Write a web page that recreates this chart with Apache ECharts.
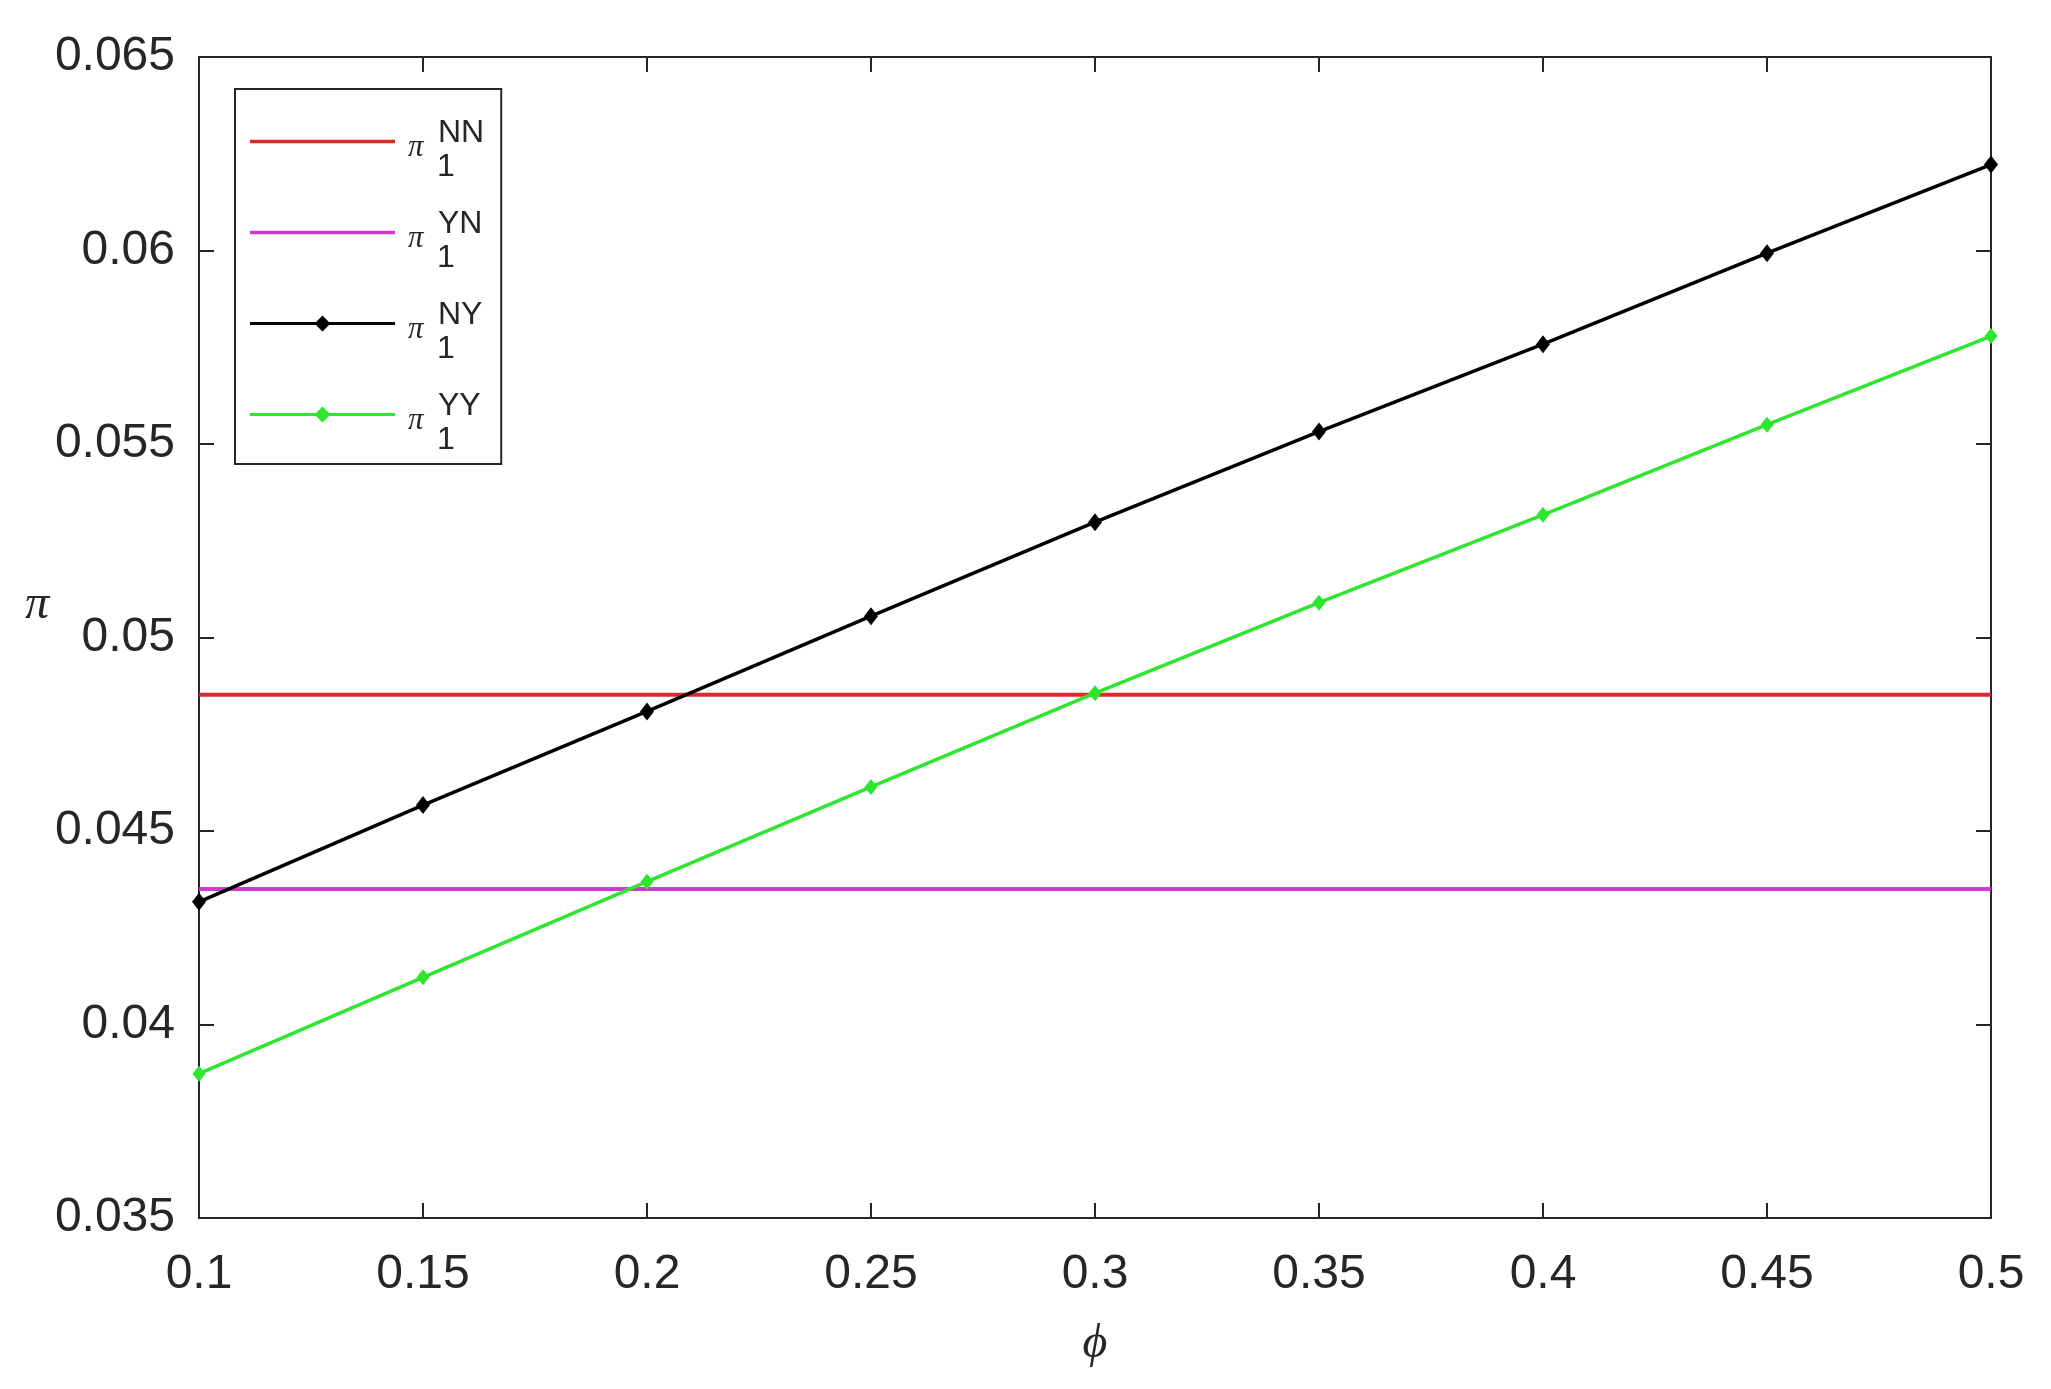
<!DOCTYPE html>
<html>
<head>
<meta charset="utf-8">
<script src="https://cdn.jsdelivr.net/npm/echarts@6/dist/echarts.min.js"></script>
<style>
html,body{margin:0;padding:0;background:#fff;}
#chart{width:2051px;height:1389px;}
</style>
</head>
<body>
<div id="chart"></div>
<script>
// ---- data ----
const phi = [0.1, 0.15, 0.2, 0.25, 0.3, 0.35, 0.4, 0.45, 0.5];
const piNN = [0.04852, 0.04852, 0.04852, 0.04852, 0.04852, 0.04852, 0.04852, 0.04852, 0.04852];
const piYN = [0.04350, 0.04350, 0.04350, 0.04350, 0.04350, 0.04350, 0.04350, 0.04350, 0.04350];
const piNY = [0.04317, 0.04567, 0.04809, 0.05055, 0.05298, 0.05532, 0.05758, 0.05993, 0.06222];
const piYY = [0.03873, 0.04122, 0.04369, 0.04614, 0.04856, 0.05090, 0.05317, 0.05550, 0.05779];
const xTickLabels = ['0.1', '0.15', '0.2', '0.25', '0.3', '0.35', '0.4', '0.45', '0.5'];
const yTickLabels = ['0.035', '0.04', '0.045', '0.05', '0.055', '0.06', '0.065'];
const seriesNames = ['NN', 'YN', 'NY', 'YY'];
const xMin = 0.1, xMax = 0.5, xStep = 0.05;
const yMin = 0.035, yMax = 0.065, yStep = 0.005;

const axisColor = '#262626';
const font = "'Liberation Sans', Arial, sans-serif";
const serif = "'Liberation Serif', 'DejaVu Serif', serif";

function pairs(ys) { return phi.map((x, i) => [x, ys[i]]); }
function xLabel(v) { return xTickLabels[Math.round((v - xMin) / xStep)]; }
function yLabel(v) { return yTickLabels[Math.round((v - yMin) / yStep)]; }

// legend icons: plain line, and line with a diamond in the middle
const iconLine = 'path://M0,0 L145,0 L145,3.5 L0,3.5 Z';
const iconLineDiamond = 'path://M0,6.5 L66,6.5 L72.5,0 L79,6.5 L145,6.5 L145,9.5 L79,9.5 L72.5,16 L66,9.5 L0,9.5 Z';

const baseAxis = {
  type: 'value',
  splitLine: { show: false },
  axisLine: { show: true, onZero: false, lineStyle: { color: axisColor, width: 2 } },
  axisTick: { show: true, inside: true, length: 15, lineStyle: { color: axisColor, width: 2 } },
};

const chart = echarts.init(document.getElementById('chart'), null, { renderer: 'canvas' });
chart.setOption({
  backgroundColor: '#ffffff',
  animation: false,
  grid: { left: 199, right: 60, top: 57, bottom: 171, containLabel: false },
  legend: {
    orient: 'vertical',
    left: 235,
    top: 89,
    backgroundColor: '#ffffff',
    borderColor: axisColor,
    borderWidth: 2,
    borderRadius: 0,
    padding: [11, 17, 8, 15],
    itemGap: 8,
    itemWidth: 145,
    itemHeight: 16,
    symbolKeepAspect: true,
    data: [
      { name: 'πNN', icon: iconLine },
      { name: 'πYN', icon: iconLine },
      { name: 'πNY', icon: iconLineDiamond },
      { name: 'πYY', icon: iconLineDiamond }
    ],
    formatter: function (name) {
      const sup = name.slice(1);
      return '{pi|π}{sub|1}{sup|' + sup + '}';
    },
    textStyle: {
      fontFamily: font,
      color: axisColor,
      rich: {
        pi: { fontSize: 31, fontFamily: serif, fontStyle: 'italic', color: axisColor, lineHeight: 30, verticalAlign: 'middle', padding: [12, 0, 0, 8], width: 29 },
        sub: { fontSize: 32, fontFamily: font, color: axisColor, lineHeight: 30, verticalAlign: 'middle', padding: [51, 0, 0, 0], width: 1 },
        sup: { fontSize: 32, fontFamily: font, color: axisColor, lineHeight: 30, verticalAlign: 'middle', padding: [0, 0, 17, 0] }
      }
    }
  },
  xAxis: [
    Object.assign({}, baseAxis, {
      position: 'bottom', min: xMin, max: xMax, interval: xStep,
      axisLabel: { margin: 33, fontSize: 48, color: axisColor, fontFamily: font, formatter: xLabel },
      name: 'ϕ', nameLocation: 'middle', nameGap: 102,
      nameTextStyle: { fontSize: 48, fontStyle: 'italic', fontFamily: serif, color: axisColor }
    }),
    Object.assign({}, baseAxis, {
      position: 'top', min: xMin, max: xMax, interval: xStep,
      axisLabel: { show: false }
    })
  ],
  yAxis: [
    Object.assign({}, baseAxis, {
      position: 'left', min: yMin, max: yMax, interval: yStep,
      axisLabel: { margin: 24, fontSize: 48, color: axisColor, fontFamily: font, formatter: yLabel },
      name: '{p|π}', nameLocation: 'middle', nameRotate: 0, nameGap: 146,
      nameTextStyle: {
        color: axisColor,
        rich: { p: { fontSize: 48, fontStyle: 'italic', fontFamily: serif, color: axisColor, padding: [0, 0, 64, 0] } }
      }
    }),
    Object.assign({}, baseAxis, {
      position: 'right', min: yMin, max: yMax, interval: yStep,
      axisLabel: { show: false }
    })
  ],
  series: [
    { name: 'πNN', type: 'line', data: pairs(piNN), symbol: 'none', clip: false,
      lineStyle: { color: '#d92b2b', width: 4 }, itemStyle: { color: '#d92b2b' } },
    { name: 'πYN', type: 'line', data: pairs(piYN), symbol: 'none', clip: false,
      lineStyle: { color: '#cc3ccc', width: 4 }, itemStyle: { color: '#cc3ccc' } },
    { name: 'πNY', type: 'line', data: pairs(piNY), symbol: 'diamond', symbolSize: [14, 18], showSymbol: true, clip: false,
      lineStyle: { color: '#000000', width: 3.5 }, itemStyle: { color: '#000000' } },
    { name: 'πYY', type: 'line', data: pairs(piYY), symbol: 'diamond', symbolSize: [13, 16], showSymbol: true, clip: false,
      lineStyle: { color: '#2ee62e', width: 3.5 }, itemStyle: { color: '#2ee62e' } }
  ]
});
</script>
</body>
</html>
